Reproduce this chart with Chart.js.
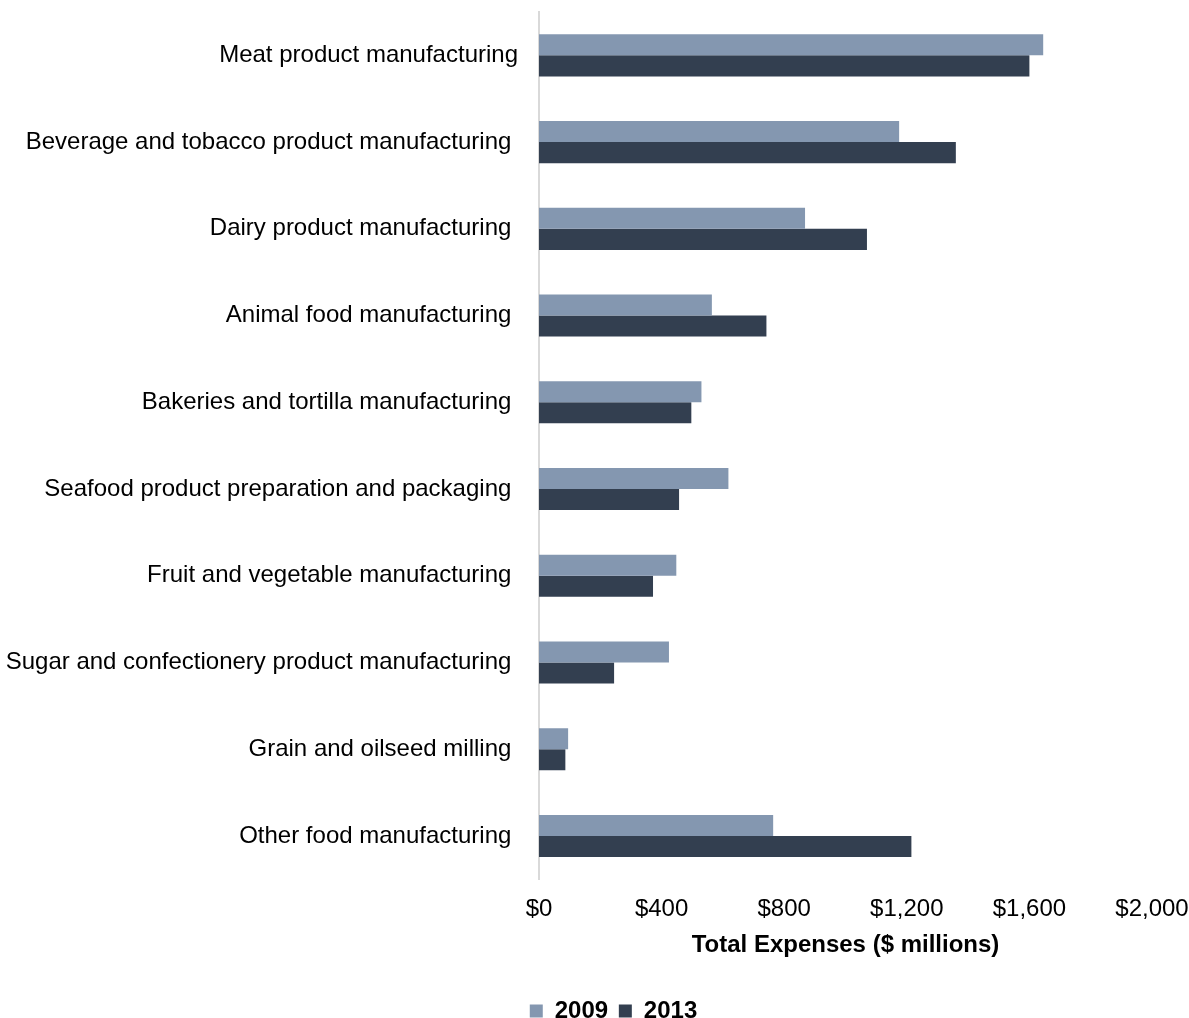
<!DOCTYPE html>
<html>
<head>
<meta charset="utf-8">
<script src="https://cdn.jsdelivr.net/npm/chart.js@4"></script>
<style>
  body { margin: 0; background: #fff; }
  canvas { display: block; }
</style>
</head>
<body>
<canvas id="barChart" width="1189" height="1018"></canvas>
<script>
// trailing spaces kept as in the source labels
const categories = [
  'Meat product manufacturing',
  'Beverage and tobacco product manufacturing ',
  'Dairy product manufacturing ',
  'Animal food manufacturing ',
  'Bakeries and tortilla manufacturing ',
  'Seafood product preparation and packaging ',
  'Fruit and vegetable manufacturing ',
  'Sugar and confectionery product manufacturing ',
  'Grain and oilseed milling ',
  'Other food manufacturing '
];
const values2009 = [1645, 1175, 868, 564, 530, 618, 448, 424, 95, 764];
const values2013 = [1600, 1360, 1070, 742, 497, 457, 372, 245, 86, 1215];
const xTicks = [0, 400, 800, 1200, 1600, 2000];

Chart.defaults.font.family = '"Liberation Sans", Arial, sans-serif';
Chart.defaults.color = '#000';

// legend sits a bit right of centre in the original
const legendShift = {
  id: 'legendShift',
  afterLayout(chart) {
    chart.legend.left += 16;
    chart.legend.right += 16;
  }
};

const ctx = document.getElementById('barChart').getContext('2d');
const chart = new Chart(ctx, {
  type: 'bar',
  data: {
    labels: categories,
    datasets: [{
      label: '2009',
      data: values2009,
      backgroundColor: '#8497b0'
    }, {
      label: '2013',
      data: values2013,
      backgroundColor: '#333f50'
    }]
  },
  options: {
    indexAxis: 'y',
    responsive: false,
    animation: false,
    layout: {
      padding: { top: 12, left: 6, right: 0, bottom: -15 }
    },
    datasets: {
      bar: {
        barPercentage: 1,
        categoryPercentage: 0.485
      }
    },
    scales: {
      x: {
        min: 0,
        max: 2000,
        afterBuildTicks: axis => {
          axis.ticks = xTicks.map(v => ({ value: v }));
        },
        afterFit: scale => {
          scale.paddingLeft = 0;
          scale.paddingRight = 37;
        },
        grid: { display: false, drawTicks: false },
        border: { display: false },
        ticks: {
          padding: 16,
          font: { size: 24 },
          callback: v => '$' + v.toLocaleString('en-US')
        },
        title: {
          display: true,
          text: 'Total Expenses ($ millions)',
          font: { size: 24, weight: 'bold' },
          padding: { top: -9, bottom: 35 }
        }
      },
      y: {
        grid: { display: false, drawTicks: false },
        border: { display: true, color: '#d9d9d9', width: 2 },
        ticks: {
          padding: 21,
          font: { size: 24 }
        },
        // keep tick padding from pushing the plot area around
        afterFit: scale => {
          scale.width = 533;
          scale.paddingTop = 0;
          scale.paddingBottom = 0;
          scale.paddingLeft = 0;
          scale.paddingRight = 0;
        }
      }
    },
    plugins: {
      legend: {
        position: 'bottom',
        labels: {
          boxWidth: 13,
          boxHeight: 13,
          padding: 4,
          font: { size: 24, weight: 'bold' },
          generateLabels: c => Chart.defaults.plugins.legend.labels.generateLabels(c).map((item, i, all) => {
            if (i < all.length - 1) item.text += ' ';
            return item;
          })
        }
      },
      tooltip: { enabled: false }
    }
  },
  plugins: [legendShift]
});
</script>
</body>
</html>
